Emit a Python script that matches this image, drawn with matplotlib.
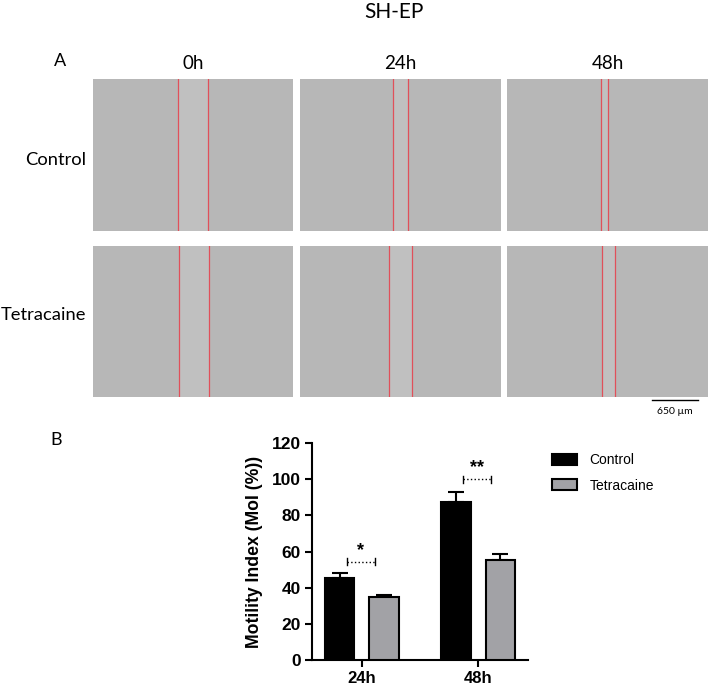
import numpy as np
import matplotlib.pyplot as plt
from matplotlib.patches import Patch

# ----------------------------------------------------
# Data
# ----------------------------------------------------
time_points = ["0h", "24h", "48h"]
conditions = ["Control", "Tetracaine"]

# wound edges (fraction of the field width) for each image
control_edges = [(0.425, 0.575), (0.463, 0.537), (0.468, 0.502)]
tetracaine_edges = [(0.43, 0.58), (0.443, 0.557), (0.473, 0.537)]

groups = ["24h", "48h"]
control_mean = [45.5, 87.4]
control_err = [2.5, 5.7]
tetracaine_mean = [34.7, 55.3]
tetracaine_err = [1.3, 3.5]
significance = ["*", "**"]
bracket_height = [54.4, 100.0]

W, H = 709, 689
fig = plt.figure(figsize=(W / 100, H / 100), dpi=100)


def px_axes(x0, y0, x1, y1):
    # axes from pixel box (top-left origin)
    return fig.add_axes([x0 / W, 1 - y1 / H, (x1 - x0) / W, (y1 - y0) / H])


label_font = "Lato"

# ----------------------------------------------------
# Panel A: wound healing images
# ----------------------------------------------------
fig.text(394 / W, 1 - 12 / H, "SH-EP", ha="center", va="center",
         fontsize=15, family=label_font)
fig.text(60 / W, 1 - 61 / H, "A", ha="center", va="center",
         fontsize=13, family=label_font)

col_x = [(93, 293), (300, 501), (507, 708)]
row_y = [(79, 231), (246, 397)]
row_label_y = [160, 315]

for j, t in enumerate(time_points):
    cx = (col_x[j][0] + col_x[j][1]) / 2
    fig.text(cx / W, 1 - 63.5 / H, t, ha="center", va="center",
             fontsize=13.5, family=label_font)

for i, (cond, edges) in enumerate(zip(conditions, [control_edges, tetracaine_edges])):
    fig.text(86 / W, 1 - row_label_y[i] / H, cond, ha="right", va="center",
             fontsize=13.2, family=label_font)
    for j in range(len(time_points)):
        ax = px_axes(col_x[j][0], row_y[i][0], col_x[j][1], row_y[i][1])
        ax.set_facecolor("#b7b7b7")
        ax.set_xlim(0, 1)
        ax.set_ylim(0, 1)
        left, right = edges[j]
        ax.axvspan(left, right, color="#c0c0c0", lw=0)
        ax.axvline(left, color="#e0505a", lw=0.9)
        ax.axvline(right, color="#e0505a", lw=0.9)
        ax.set_xticks([])
        ax.set_yticks([])
        for s in ax.spines.values():
            s.set_visible(False)

# scale bar
fig.add_artist(plt.Line2D([652 / W, 698 / W], [1 - 400 / H, 1 - 400 / H],
                          color="black", lw=1))
fig.text(675 / W, 1 - 412 / H, "650 µm", ha="center", va="center",
         fontsize=7.5, family=label_font)

# ----------------------------------------------------
# Panel B: motility index
# ----------------------------------------------------
fig.text(56 / W, 1 - 440 / H, "B", ha="center", va="center",
         fontsize=13, family=label_font)

ax = px_axes(312, 443, 528, 660)
x = np.arange(len(groups))
width = 0.25
offset = 0.19

ax.bar(x - offset, control_mean, width, color="black", edgecolor="black",
       lw=1.5, label="Control", zorder=3)
ax.bar(x + offset, tetracaine_mean, width, color="#a2a2a6", edgecolor="black",
       lw=1.5, label="Tetracaine", zorder=3)
ax.errorbar(x - offset, control_mean, yerr=[np.zeros(2), control_err],
            fmt="none", ecolor="black", elinewidth=1.5, capsize=6, capthick=1.5,
            zorder=2)
ax.errorbar(x + offset, tetracaine_mean, yerr=[np.zeros(2), tetracaine_err],
            fmt="none", ecolor="black", elinewidth=1.5, capsize=6, capthick=1.5,
            zorder=2)

# significance brackets
for k in range(len(groups)):
    x0, x1 = x[k] - 0.13, x[k] + 0.11
    yb = bracket_height[k]
    ax.plot([x0, x1], [yb, yb], ls=":", color="black", lw=1)
    ax.plot([x0, x0], [yb - 2, yb + 2], color="black", lw=1)
    ax.plot([x1, x1], [yb - 2, yb + 2], color="black", lw=1)
    ax.text((x0 + x1) / 2, yb + 1.5, significance[k], ha="center", va="bottom",
            fontsize=13, fontweight="bold", family="Liberation Sans")

ax.set_xlim(-0.43, 1.43)
ax.set_ylim(0, 120)
ax.set_yticks(range(0, 121, 20))
ax.set_xticks(x)
ax.set_xticklabels(groups)
ax.spines["top"].set_visible(False)
ax.spines["right"].set_visible(False)
for s in ["left", "bottom"]:
    ax.spines[s].set_linewidth(1.5)
ax.tick_params(width=1.5, length=5, pad=3)
for lbl in ax.get_yticklabels():
    lbl.set_fontfamily("Liberation Sans")
    lbl.set_fontweight("bold")
    lbl.set_fontsize(12.5)
for lbl in ax.get_xticklabels():
    lbl.set_fontfamily("Liberation Sans")
    lbl.set_fontweight("bold")
    lbl.set_fontsize(12)
ax.set_ylabel("Motility Index (MoI (%))", family="Liberation Sans",
              fontweight="bold", fontsize=12.7, labelpad=6)

handles = [Patch(facecolor="black", edgecolor="black", lw=1.5),
           Patch(facecolor="#a2a2a6", edgecolor="black", lw=1.5)]
fig.legend(handles, conditions, loc="upper left",
           bbox_to_anchor=(539 / W, 1 - 441 / H), frameon=False,
           prop={"family": "Liberation Sans", "size": 10},
           handlelength=1.87, handleheight=0.8, handletextpad=0.86,
           labelspacing=0.8)

fig.savefig("out.png", dpi=100)
